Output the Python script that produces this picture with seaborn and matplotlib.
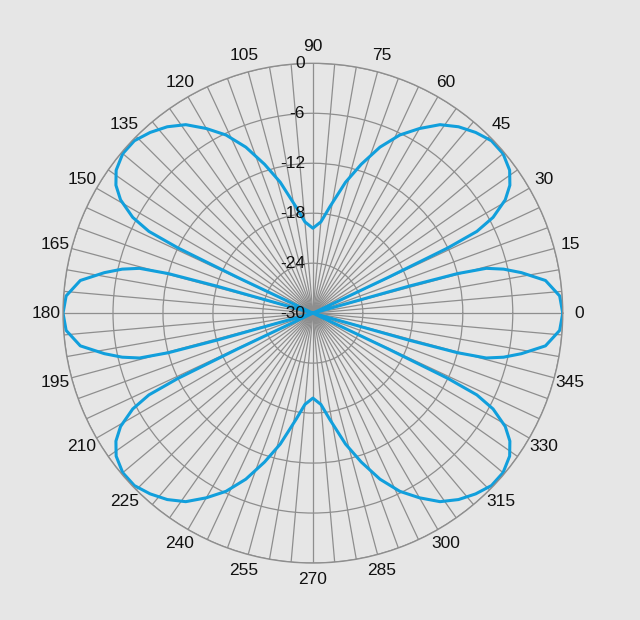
import numpy as np
import matplotlib
matplotlib.use('Agg')
import matplotlib.pyplot as plt
import matplotlib.transforms as mtransforms
import seaborn as sns


# pattern (angle in degrees, gain in dB, clipped at -30)
angle_deg = [
    0, 4, 8, 11, 13, 14.5, 15.3, 15.7, 16.2, 25, 25.4, 25.8, 26.5, 28, 30.5,
    33, 36, 40, 44, 48, 52, 56, 60, 64, 68, 72, 76, 81, 85, 90,
    95, 99, 104, 108, 112, 116, 120, 124, 128, 132, 136, 140, 144, 147, 149.5,
    152, 153.5, 154.2, 154.6, 155, 163.8, 164.3, 164.7, 165.5, 167, 169, 172, 176, 180,
    184, 188, 191, 193, 194.5, 195.3, 195.7, 196.2, 205, 205.4, 205.8, 206.5, 208, 210.5,
    213, 216, 220, 224, 228, 232, 236, 240, 244, 248, 252, 256, 261, 265, 270,
    275, 279, 284, 288, 292, 296, 300, 304, 308, 312, 316, 320, 324, 327, 329.5,
    332, 333.5, 334.2, 334.6, 335, 343.8, 344.3, 344.7, 345.5, 347, 349, 352, 356, 360,
]
gain_db = [
    0, -0.3, -1.8, -4.5, -6.5, -8.5, -12, -18, -30, -30, -20, -12, -8, -5.5, -3.2,
    -1.8, -0.8, -0.2, -0.2, -0.8, -1.6, -2.7, -4.4, -6.2, -8.5, -11.2, -13.8, -17.1, -19.0, -19.8,
    -19.0, -17.1, -13.8, -11.2, -8.5, -6.2, -4.4, -2.7, -1.6, -0.8, -0.2, -0.2, -0.8, -1.8, -3.2,
    -5.5, -8, -12, -20, -30, -30, -18, -12, -8.5, -6.5, -4.5, -1.8, -0.3, 0,
    -0.3, -1.8, -4.5, -6.5, -8.5, -12, -18, -30, -30, -20, -12, -8, -5.5, -3.2,
    -1.8, -0.8, -0.2, -0.2, -0.8, -1.6, -2.7, -4.4, -6.2, -8.5, -11.2, -13.8, -17.1, -19.0, -19.8,
    -19.0, -17.1, -13.8, -11.2, -8.5, -6.2, -4.4, -2.7, -1.6, -0.8, -0.2, -0.2, -0.8, -1.8, -3.2,
    -5.5, -8, -12, -20, -30, -30, -18, -12, -8.5, -6.5, -4.5, -1.8, -0.3, 0,
]
ring_db = [-30, -24, -18, -12, -6, 0]
ring_labels = ['-30', '-24', '-18', '-12', '-6', '0']
spoke_deg = list(range(0, 360, 5))

sns.set_theme(style='white')
plt.rcParams['font.family'] = ['Liberation Sans', 'DejaVu Sans']

bg = '#e6e6e6'
grid_col = '#8e8e8e'
txt_col = '#111111'

fig = plt.figure(figsize=(6.4, 6.2), dpi=100, facecolor=bg)
ax = fig.add_axes([0.0984, 0.0919, 0.781, 0.806], projection='polar')
ax.set_facecolor(bg)

sns.lineplot(x=np.deg2rad(angle_deg), y=gain_db, ax=ax, sort=False, estimator=None,
             color='#119fdc', linewidth=2.2)

ax.set_ylim(-30, 0)
ax.set_yticks(ring_db)
ax.set_yticklabels([])
ax.set_xticks(np.deg2rad(spoke_deg))
ax.set_xticklabels([str(a) if a % 15 == 0 else '' for a in spoke_deg],
                   fontsize=12.5, color=txt_col)
ax.tick_params(axis='x', pad=-1)
ax.grid(True, color=grid_col, linewidth=0.9)
ax.spines['polar'].set_color(grid_col)
ax.spines['polar'].set_linewidth(1.0)
ax.set_xlabel('')
ax.set_ylabel('')

# radial labels, right of text sitting just left of the 90 degree spoke
offset = mtransforms.offset_copy(ax.transData, fig=fig, x=-8, y=0, units='dots')
for v, s in zip(ring_db, ring_labels):
    ax.text(np.pi / 2, v, s, transform=offset, ha='right', va='center',
            fontsize=12.5, color=txt_col, zorder=5)

fig.savefig('out.png', dpi=100, facecolor=bg)
